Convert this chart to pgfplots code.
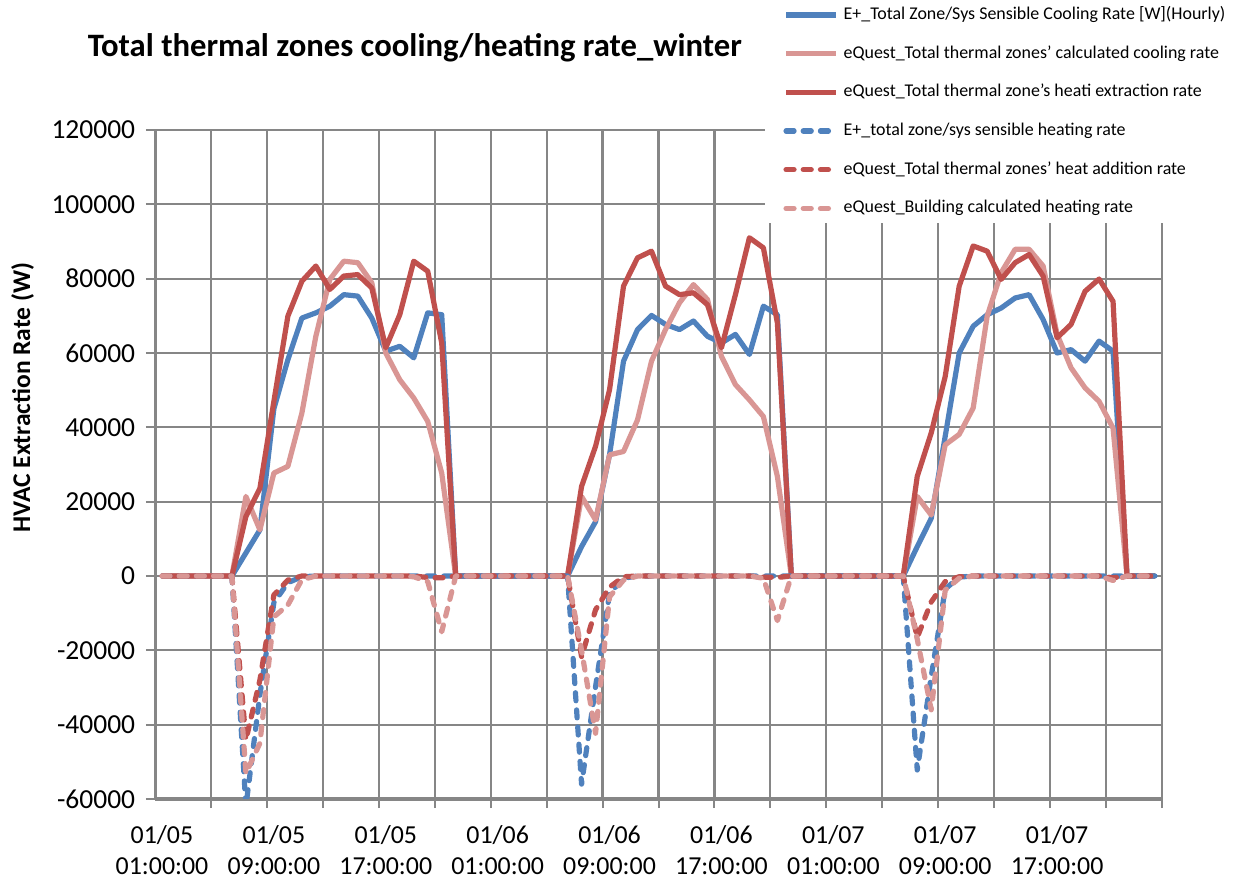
\documentclass[border=0pt]{standalone}
\usepackage{fontspec}
\setmainfont{Carlito}
\usepackage{pgfplots}
\usepackage{pgfplotstable}
\pgfplotsset{compat=1.18}
\definecolor{cblue}{RGB}{79,129,189}
\definecolor{cred}{RGB}{192,80,77}
\definecolor{cpink}{RGB}{217,150,148}
\definecolor{cgrid}{RGB}{134,134,134}
\pgfplotstableread{
x bc pc rc bh rh ph
0 0 0 0 0 0 0
1 0 0 0 0 0 0
2 0 0 0 0 0 0
3 0 0 0 0 0 0
4 0 0 0 0 0 0
5 0 0 0 0 0 0
6 6200 21400 16000 -62000 -44100 -53100
7 12400 12400 23600 -32000 -28000 -45000
8 45000 27700 47000 -7200 -5100 -11000
9 58200 29500 69900 -1800 -1100 -7800
10 69400 43800 79300 -200 0 -1000
11 70800 64500 83400 0 0 0
12 72600 79800 77100 0 0 0
13 75700 84700 80700 0 0 0
14 75300 84300 81100 0 0 0
15 69400 78900 77500 0 0 0
16 60500 60000 61400 0 0 0
17 61800 52800 70300 0 0 0
18 58700 47900 84700 0 0 -200
19 70800 41600 82000 0 -400 -1500
20 70300 27700 62700 0 -500 -15000
21 0 0 0 0 0 0
22 0 0 0 0 0 0
23 0 0 0 0 0 0
24 0 0 0 0 0 0
25 0 0 0 0 0 0
26 0 0 0 0 0 0
27 0 0 0 0 0 0
28 0 0 0 0 0 0
29 0 0 0 0 0 0
30 7900 21400 24100 -56000 -21700 -20000
31 14600 15100 34900 -29800 -9100 -42300
32 32600 32600 50100 -4700 -3000 -5600
33 57800 33500 78000 -600 -200 -1100
34 66300 42000 85600 0 0 0
35 70100 57800 87400 0 0 0
36 67700 66300 78000 0 0 0
37 66300 73500 75700 0 0 0
38 68600 78400 76200 0 0 0
39 64500 74400 73000 0 0 0
40 62700 59100 61400 0 0 0
41 65000 51500 75700 0 0 0
42 59600 47400 91000 0 0 0
43 72600 42900 88300 0 -300 -600
44 70300 26800 68100 0 -400 -12000
45 0 0 0 0 0 0
46 0 0 0 0 0 0
47 0 0 0 0 0 0
48 0 0 0 0 0 0
49 0 0 0 0 0 0
50 0 0 0 0 0 0
51 0 0 0 0 0 0
52 0 0 0 0 0 0
53 0 0 0 0 0 0
54 7900 21400 26800 -52200 -16500 -17000
55 15500 16400 38500 -27000 -7000 -36000
56 37600 35300 53700 -3500 -1500 -3800
57 60000 38100 78000 -300 -200 -600
58 67200 45200 88800 0 0 0
59 70300 69900 87400 0 0 0
60 72100 81600 79800 0 0 0
61 74800 87900 84300 0 0 0
62 75700 87900 86500 0 0 0
63 69000 83400 80700 0 0 0
64 60000 65000 64100 0 0 0
65 60900 56000 67700 0 0 0
66 57800 50600 76600 0 0 0
67 63200 47000 79900 0 0 0
68 60500 39800 73900 0 -500 -1200
69 0 0 0 0 0 0
70 0 0 0 0 0 0
71 0 0 0 0 0 0
}\data
\begin{document}
\begin{tikzpicture}
\useasboundingbox (0,0) rectangle (624bp,444bp);
\begin{axis}[
  at={(77.5bp,44.5bp)}, anchor=south west,
  scale only axis, width=503.5bp, height=334.5bp,
  xmin=-0.5, xmax=71.5, ymin=-60000, ymax=120000,
  scaled y ticks=false,
  axis x line*=bottom, axis y line*=left,
  x axis line style={cgrid, line width=2bp, -},
  y axis line style={cgrid, line width=1.5bp, -},
  tick align=outside,
  major tick length=0pt, minor tick length=4.5bp,
  tick style={cgrid, line width=1bp},
  xtick={0,8,...,64},
  xticklabels={{01/05\\01:00:00},{01/05\\09:00:00},{01/05\\17:00:00},{01/06\\01:00:00},{01/06\\09:00:00},{01/06\\17:00:00},{01/07\\01:00:00},{01/07\\09:00:00},{01/07\\17:00:00}},
  minor xtick={3.5,7.5,...,71.5},
  xmajorgrids=false, xminorgrids=true,
  ytick={-60000,-40000,-20000,0,20000,40000,60000,80000,100000,120000},
  minor ytick={-60000,-40000,-20000,0,20000,40000,60000,80000,100000,120000},
  yticklabels={-60000,-40000,-20000,0,20000,40000,60000,80000,100000,120000},
  ymajorgrids=true, yminorgrids=false,
  grid style={cgrid, line width=1.1bp},
  minor grid style={cgrid, line width=1.1bp},
  xticklabel style={align=center, font=\fontsize{13}{16}\selectfont, yshift=-9.5bp},
  yticklabel style={font=\fontsize{13.8}{16}\selectfont, xshift=-6.4bp},
  title={Total thermal zones cooling/heating rate\_winter},
  title style={at={(0.258,1.105)}, anchor=center, font=\bfseries\fontsize{16.4}{19}\selectfont},
  ylabel={HVAC Extraction Rate (W)},
  ylabel style={at={(-0.1316,0.6)}, anchor=center, font=\bfseries\fontsize{12.8}{15}\selectfont},
  legend cell align=left,
  legend style={at={(0.6058,1.1943)}, anchor=north west, fill=white, draw=none,
    inner xsep=9bp, inner ysep=3bp, row sep=10.85bp,
    font=\fontsize{9}{10}\selectfont,
    nodes={inner xsep=2.5bp, inner ysep=0pt, text height=6.5bp, text depth=2bp}},
  legend image code/.code={\draw[#1] (0bp,0bp) -- (25bp,0bp);},
  every axis plot/.append style={line width=2.6bp, line join=round},
  dashed style/.style={dash pattern=on 4bp off 4.6bp, line cap=round},
]
\addplot[cblue] table[x=x,y=bc]{\data};
\addlegendentry{E+\_Total Zone/Sys Sensible Cooling Rate [W](Hourly)}
\addplot[cpink] table[x=x,y=pc]{\data};
\addlegendentry{eQuest\_Total thermal zones' calculated cooling rate}
\addplot[cred] table[x=x,y=rc]{\data};
\addlegendentry{eQuest\_Total thermal zone's heati extraction rate}
\addplot[cblue, dashed style] table[x=x,y=bh]{\data};
\addlegendentry{E+\_total zone/sys sensible heating rate}
\addplot[cred, dashed style] table[x=x,y=rh]{\data};
\addlegendentry{eQuest\_Total thermal zones' heat addition rate}
\addplot[cpink, dashed style] table[x=x,y=ph]{\data};
\addlegendentry{eQuest\_Building calculated heating rate}
\end{axis}
\end{tikzpicture}
\end{document}
